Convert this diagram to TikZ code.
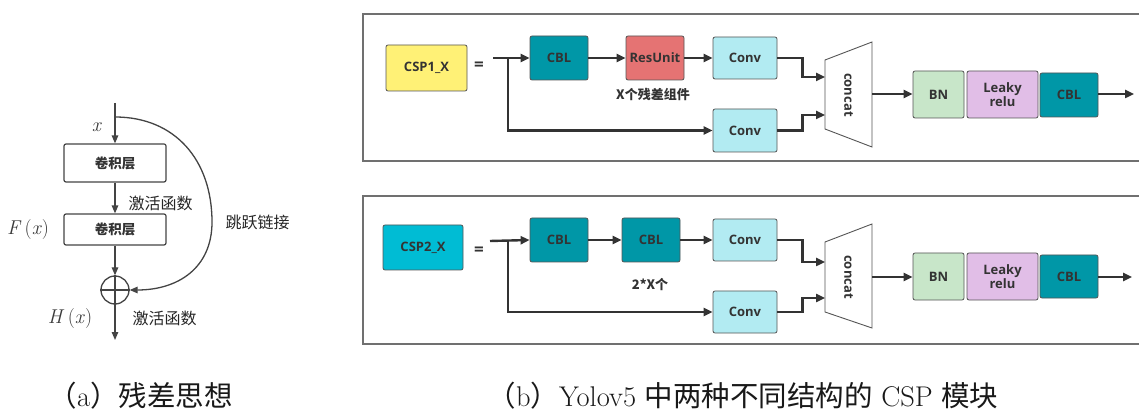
\documentclass[tikz,border=0pt]{standalone}
\usepackage{fontspec}
\newfontfamily\cjk{Noto Sans CJK SC}
\newfontfamily\osans{Open Sans}
\usetikzlibrary{arrows.meta}
\definecolor{cspyellow}{HTML}{FFF176}
\definecolor{cblteal}{HTML}{0097A7}
\definecolor{resred}{HTML}{E57373}
\definecolor{convcyan}{HTML}{B2EBF2}
\definecolor{csptwo}{HTML}{00BCD4}
\definecolor{bngreen}{HTML}{C8E6C9}
\definecolor{leakypurple}{HTML}{E1BEE7}
\definecolor{bordergray}{HTML}{555555}
\definecolor{textgray}{HTML}{333333}
\definecolor{arrowgray}{HTML}{333333}
\definecolor{leftgray}{HTML}{444444}
\definecolor{framegray}{HTML}{707070}
\definecolor{mathgray}{HTML}{3A3A3A}
\tikzset{
  cbox/.style={draw=bordergray, line width=0.8pt, rounded corners=2pt, font=\osans\bfseries\fontsize{13}{15}\selectfont, text=textgray, align=center, inner sep=0pt},
  arr/.style={line width=2.4pt, draw=arrowgray, -{Triangle[length=9pt,width=8pt]}},
  larr/.style={line width=1.3pt, draw=leftgray, -{Triangle[length=8pt,width=6.5pt]}},
  lline/.style={line width=1.3pt, draw=leftgray},
  panelframe/.style={draw=framegray, line width=1.3pt},
  lbl/.style={font=\cjk\fontsize{16}{18}\selectfont, text=black!85},
  mlbl/.style={font=\fontsize{20}{24}\selectfont, text=mathgray},
  lbox/.style={draw=leftgray, line width=1.2pt, rounded corners=2pt, minimum width=102pt, inner sep=0pt, font=\cjk\bfseries\fontsize{13.5}{15}\selectfont, text=textgray},
  trap/.style={draw=bordergray, line width=0.9pt, fill=white},
  catlbl/.style={font=\osans\bfseries\fontsize{13}{15}\selectfont, text=textgray, rotate=-90},
  sublbl/.style={font=\cjk\bfseries\fontsize{13}{15}\selectfont, text=textgray},
  eqlbl/.style={font=\osans\bfseries\fontsize{17}{19}\selectfont, text=textgray},
  caplbl/.style={font=\fontsize{28.5}{32}\selectfont, anchor=west, text=black!90}
}
\begin{document}
\begin{tikzpicture}[x=1pt,y=-1pt]
\useasboundingbox (0,0) rectangle (1139,411);
\fill[white] (0,0) rectangle (1139,411);

% ---------------- (a) residual ----------------
\coordinate (xin) at (115,103);
\coordinate (skipstart) at (115,117);
\coordinate (hout) at (115,340);
\node[lbox, minimum height=38pt] (b1) at (115,163) {卷积层};
\node[lbox, minimum height=31pt] (b2) at (115,229.5) {卷积层};
\node[circle, draw=leftgray, line width=1.3pt, minimum size=28pt, inner sep=0pt] (sum) at (115,290) {};
\draw[larr] (xin) -- (b1.north);
\draw[larr] (b1) -- (b2);
\draw[larr] (b2) -- (sum.north);
\draw[lline] (sum.north) -- (sum.south) (sum.west) -- (sum.east);
\draw[larr] (sum.south) -- (hout);
\draw[larr] (skipstart) .. controls (175,117) and (212,160) .. (212,222)
  .. controls (212,268) and (178,290) .. (sum.east);
\node[mlbl] (lx) at (97,127) {\textit{x}};
\node[mlbl] (lf) at (28,230) {\textit{F}\,(\textit{x})};
\node[mlbl] (lh) at (70,319) {\textit{H}\,(\textit{x})};
\node[lbl, anchor=west] (act1) at (125,203) {激活函数};
\node[lbl, anchor=west] (act2) at (129,318) {激活函数};
\node[lbl, anchor=west] (skiplbl) at (222,222) {跳跃链接};

% ---------------- (b) frames ----------------
\draw[panelframe] (363,14) rectangle (1150,161);
\draw[panelframe] (363,196) rectangle (1150,344);

% ---------------- row 1: CSP1_X ----------------
\node[cbox, fill=cspyellow, minimum width=81pt, minimum height=46pt] (csp1) at (426.5,68) {CSP1\_X};
\node[eqlbl] (eq1) at (479,66) {=};
\coordinate (in1) at (493,58);
\coordinate (br1) at (508,58);
\node[cbox, fill=cblteal, minimum width=58pt, minimum height=44pt] (cbl11) at (559,58) {CBL};
\node[cbox, fill=resred, minimum width=58pt, minimum height=44pt] (res1) at (655,58) {ResUnit};
\node[cbox, fill=convcyan, minimum width=64pt, minimum height=42pt] (conv11) at (745,58) {Conv};
\node[sublbl] (xlbl1) at (653,95) {X个残差组件};
\node[cbox, fill=convcyan, minimum width=64pt, minimum height=43pt] (conv12) at (745,130.5) {Conv};
\draw[trap] (825,60) -- (872,42) -- (872,147) -- (825,129) -- cycle;
\node[catlbl] (cat1) at (848.5,95) {concat};
\coordinate (t1a) at (825,77);
\coordinate (t1b) at (825,115);
\coordinate (t1out) at (872,94);
\node[cbox, fill=bngreen, minimum width=51pt, minimum height=47pt] (bn1) at (938.5,94.5) {BN};
\node[cbox, fill=leakypurple, minimum width=71pt, minimum height=47pt] (lk1) at (1002.5,94.5) {Leaky\\[-1pt]relu};
\node[cbox, fill=cblteal, minimum width=58pt, minimum height=44pt] (cblo1) at (1069,95) {CBL};
\coordinate (out1) at (1134,94);
\draw[arr] (in1) -- (cbl11.west);
\draw[arr] (br1) |- (conv12.west);
\draw[arr] (cbl11) -- (res1);
\draw[arr] (res1) -- (conv11);
\draw[arr] (conv11.east) -- ++(25,0) |- (t1a);
\draw[arr] (conv12.east) -- ++(25,0) |- (t1b);
\draw[arr] (t1out) -- (bn1.west |- t1out);
\draw[arr] (cblo1.east |- out1) -- (out1);

% ---------------- row 2: CSP2_X ----------------
\node[cbox, fill=csptwo, minimum width=80pt, minimum height=45pt] (csp2) at (423,247.5) {CSP2\_X};
\node[eqlbl] (eq2) at (479,251) {=};
\coordinate (in2) at (490,241);
\coordinate (br2) at (508,241);
\node[cbox, fill=cblteal, minimum width=58pt, minimum height=44pt] (cbl21) at (559,240) {CBL};
\node[cbox, fill=cblteal, minimum width=58pt, minimum height=44pt] (cbl22) at (651,240) {CBL};
\node[cbox, fill=convcyan, minimum width=64pt, minimum height=42pt] (conv21) at (745,240) {Conv};
\node[sublbl] (xlbl2) at (650,285) {2*X个};
\node[cbox, fill=convcyan, minimum width=64pt, minimum height=42pt] (conv22) at (745,312) {Conv};
\draw[trap] (825,242) -- (872,224) -- (872,328) -- (825,312) -- cycle;
\node[catlbl] (cat2) at (848.5,277) {concat};
\coordinate (t2a) at (825,262);
\coordinate (t2b) at (825,298);
\coordinate (t2out) at (872,277);
\node[cbox, fill=bngreen, minimum width=51pt, minimum height=47pt] (bn2) at (938.5,276.5) {BN};
\node[cbox, fill=leakypurple, minimum width=71pt, minimum height=47pt] (lk2) at (1002.5,276.5) {Leaky\\[-1pt]relu};
\node[cbox, fill=cblteal, minimum width=58pt, minimum height=43pt] (cblo2) at (1069,276.5) {CBL};
\coordinate (out2) at (1132,277);
\draw[arr] (in2) -- (cbl21.west);
\draw[arr] (br2) |- (conv22.west);
\draw[arr] (cbl21) -- (cbl22);
\draw[arr] (cbl22) -- (conv21);
\draw[arr] (conv21.east) -- ++(25,0) |- (t2a);
\draw[arr] (conv22.east) -- ++(25,0) |- (t2b);
\draw[arr] (t2out) -- (bn2.west |- t2out);
\draw[arr] (cblo2.east |- out2) -- (out2);

% ---------------- captions ----------------
\node[caplbl] (capa) at (45,396) {{\cjk （}a{\cjk ）残差思想}};
\node[caplbl] (capb) at (484,396) {{\cjk （}b{\cjk ）}Yolov5 {\cjk 中两种不同结构的} CSP {\cjk 模块}};
\end{tikzpicture}
\end{document}
